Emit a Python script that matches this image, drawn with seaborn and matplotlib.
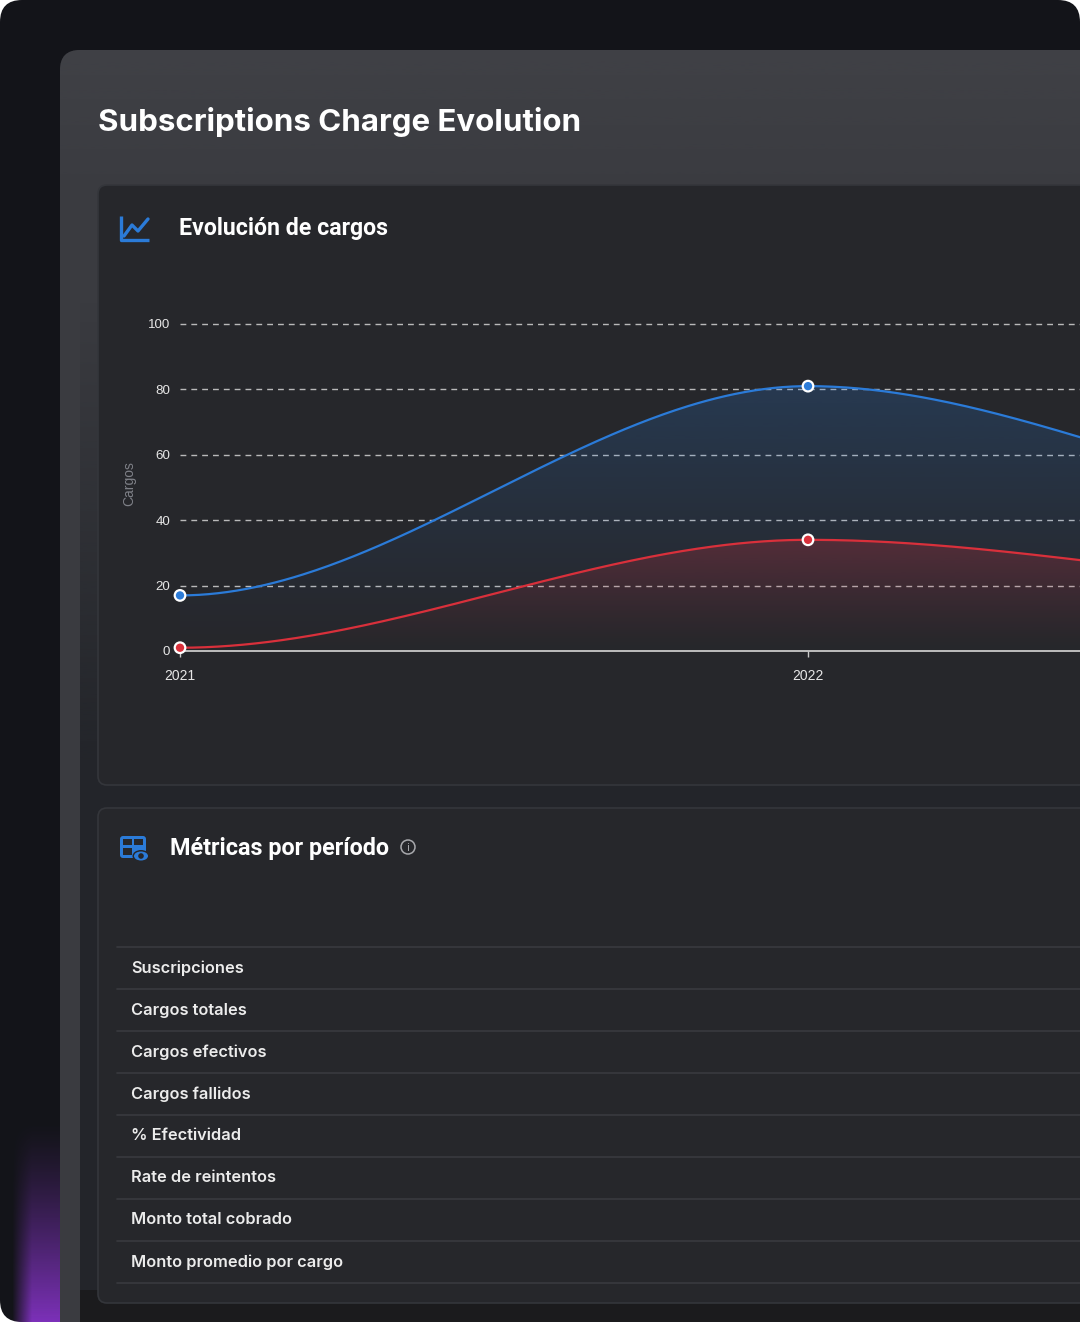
import numpy as np
import pandas as pd
import matplotlib
matplotlib.use("Agg")
import matplotlib.pyplot as plt
import seaborn as sns
from matplotlib.patches import FancyBboxPatch, Rectangle, Circle, Ellipse
from matplotlib.colors import to_rgb

# data
years = [2021, 2022, 2023]
cargos_totales = [17, 81, 42]
cargos_fallidos = [1, 34, 18.5]
y_ticks = [0, 20, 40, 60, 80, 100]
row_labels = ["Suscripciones", "Cargos totales", "Cargos efectivos", "Cargos fallidos",
              "% Efectividad", "Rate de reintentos", "Monto total cobrado",
              "Monto promedio por cargo"]

BLUE = "#2b7bd8"
RED = "#d9303b"
W, H = 1080, 1322

sns.set_style("dark")
plt.rcParams["font.family"] = ["Inter", "DejaVu Sans"]

fig = plt.figure(figsize=(W / 100, H / 100), dpi=100, facecolor="white")
bg = fig.add_axes([0, 0, 1, 1])
bg.set_xlim(0, W)
bg.set_ylim(H, 0)
bg.axis("off")


def rbox(x, y, w, h, r, fc, ec="none", lw=0, z=1):
    p = FancyBboxPatch((x, y), w, h, boxstyle=f"round,pad=0,rounding_size={r}",
                       fc=fc, ec=ec, lw=lw, zorder=z)
    bg.add_patch(p)
    return p


def vgrad(x0, x1, y0, y1, color, a0, a1, z, clip=None):
    rgba = np.zeros((256, 1, 4))
    rgba[..., :3] = to_rgb(color)
    rgba[..., 3] = np.linspace(a0, a1, 256)[:, None]
    im = bg.imshow(rgba, extent=[x0, x1, y1, y0], origin="upper", aspect="auto", zorder=z)
    if clip is not None:
        im.set_clip_path(clip)
    return im


# outer frame
outer = rbox(0, 0, W, H, 22, "#131419", z=0)
# purple glow bottom-left
glow = np.zeros((200, 70, 4))
glow[..., :3] = to_rgb("#8634c8")
yy = np.linspace(0, 1, 200)[:, None] ** 1.3
xx = np.clip((np.linspace(0, 70, 70)[None, :] - 12) / 20, 0, 1)
glow[..., 3] = 0.92 * yy * xx
im = bg.imshow(glow, extent=[0, 70, H, 1120], origin="upper", aspect="auto", zorder=0.5)
im.set_clip_path(outer)

# panel
panel = rbox(60, 50, 1020 + 30, 1320, 20, "#3a3b40", z=1)
vgrad(60, W, 50, 200, "#44454a", 0.6, 0.0, 1.1, clip=panel)
# inner darker area
vgrad(80, W, 300, 760, "#23252a", 0.0, 1.0, 1.2)
bg.add_patch(Rectangle((80, 760), 1000, 600, fc="#23252a", ec="none", zorder=1.2))
bg.add_patch(Rectangle((80, 1290), 1000, 40, fc="#1b1b1d", ec="none", zorder=1.3))

bg.text(98, 122, "Subscriptions Charge Evolution", fontsize=22.5, fontweight="bold",
        color="white", va="center", ha="left", zorder=5)

# cards
rbox(98, 185, 1040, 600, 9, "#26272b", ec="#34363b", lw=1.2, z=2)
rbox(98, 808, 1040, 495, 9, "#26272b", ec="#34363b", lw=1.2, z=2)

# chart icon
bg.plot([121, 121, 149], [216, 240, 240], color=BLUE, lw=2.4, solid_capstyle="butt", zorder=5)
bg.plot([124, 132, 138, 148], [236, 225, 231, 219], color=BLUE, lw=2.4, zorder=5)
bg.text(179, 229, "Evolución de cargos", fontsize=16.7, fontweight="bold", color="white",
        va="center", ha="left", family=["Roboto", "DejaVu Sans"], zorder=5)

# table icon
rbox(120, 836, 26, 22, 3, BLUE, z=5)
bg.add_patch(Rectangle((123, 839), 9, 6, fc="#26272b", ec="none", zorder=6))
bg.add_patch(Rectangle((134, 839), 9, 6, fc="#26272b", ec="none", zorder=6))
bg.add_patch(Rectangle((123, 847.5), 9, 7, fc="#26272b", ec="none", zorder=6))
bg.add_patch(Ellipse((141, 856), 17, 12, fc="#26272b", ec="none", zorder=6.5))
bg.add_patch(Ellipse((141, 856), 14, 9, fc=BLUE, ec="none", zorder=7))
bg.add_patch(Circle((141, 856), 2.8, fc="#26272b", ec="none", zorder=8))
bg.text(170, 849, "Métricas por período", fontsize=16.8, fontweight="bold", color="white",
        va="center", ha="left", family=["Roboto", "DejaVu Sans"], zorder=5)
bg.add_patch(Circle((408, 847), 7, fc="none", ec="#a8a9ad", lw=1.1, zorder=5))
bg.text(408, 848, "i", fontsize=7.5, color="#a8a9ad", ha="center", va="center",
        family=["DejaVu Sans"], zorder=5)

# table rows
row_y = 947 + 42 * np.arange(len(row_labels) + 1)
for yv in row_y:
    bg.plot([117, W], [yv, yv], color="#393a3f", lw=1.2, zorder=5)
for lbl, yv in zip(row_labels, row_y[:-1]):
    bg.text(131, yv + 21, lbl, fontsize=11.8, fontweight="semibold", color="#ececec",
            va="center", ha="left", zorder=5)

# chart axes (extends past right edge like the cropped screenshot)
x_left, x_right = 180, 180 + 628 * 2
y_bot, y_top = 651, 324
ax = fig.add_axes([x_left / W, 1 - y_bot / H, (x_right - x_left) / W, (y_bot - y_top) / H])
ax.patch.set_alpha(0)
ax.set_zorder(10)


def smooth(xs, ys, n=200):
    xo, yo = [], []
    for i in range(len(xs) - 1):
        t = np.linspace(0, 1, n)
        s = 3 * t ** 2 - 2 * t ** 3
        xo.append(xs[i] + (xs[i + 1] - xs[i]) * t)
        yo.append(ys[i] + (ys[i + 1] - ys[i]) * s)
    return np.concatenate(xo), np.concatenate(yo)


def grad_fill(x, y, color, a_top):
    poly = ax.fill_between(x, y, 0, color="none", lw=0)
    rgba = np.zeros((256, 1, 4))
    rgba[..., :3] = to_rgb(color)
    rgba[..., 3] = a_top * np.linspace(0, 1, 256)[:, None] ** 1.2
    im = ax.imshow(rgba, extent=[x.min(), x.max(), 0, y.max()], origin="lower",
                   aspect="auto", zorder=1)
    im.set_clip_path(poly.get_paths()[0], transform=ax.transData)


series = {"Cargos totales": (cargos_totales, BLUE, 0.22),
          "Cargos fallidos": (cargos_fallidos, RED, 0.26)}
curves = []
for name, (vals, col, a) in series.items():
    xs, ys = smooth(years, vals)
    grad_fill(xs, ys, col, a)
    curves.append(pd.DataFrame({"year": xs, "value": ys, "serie": name}))
df_curve = pd.concat(curves)
df_pts = pd.DataFrame({"year": years * 2,
                       "value": cargos_totales + cargos_fallidos,
                       "serie": ["Cargos totales"] * 3 + ["Cargos fallidos"] * 3})
pal = {"Cargos totales": BLUE, "Cargos fallidos": RED}

for yv in y_ticks[1:]:
    ax.axhline(yv, color="#d4d4d4", lw=1, ls=(0, (4.2, 3.6)), alpha=0.85, zorder=0.5)
ax.axhline(0, color="#c9c9c9", lw=1.3, zorder=2)

sns.lineplot(data=df_curve, x="year", y="value", hue="serie", palette=pal, lw=1.6,
             legend=False, ax=ax, zorder=3, estimator=None, sort=False)
sns.scatterplot(data=df_pts, x="year", y="value", hue="serie", palette=pal, s=58,
                edgecolor="white", linewidth=1.6, legend=False, ax=ax, zorder=4)
for c in ax.collections:
    c.set_clip_on(False)
for ln in ax.lines:
    ln.set_clip_on(False)

ax.set_xlim(years[0], years[-1])
ax.set_ylim(0, 100)
# 2023 falls outside the visible (cropped) area, so only the first two get labels
ax.set_xticks(years[:2])
ax.set_xticklabels([str(y) for y in years[:2]])
ax.set_yticks(y_ticks)
ax.grid(False)
for sp in ax.spines.values():
    sp.set_visible(False)
ax.tick_params(axis="y", length=0, pad=7, labelsize=9.6, labelcolor="#e6e6e6")
ax.tick_params(axis="x", length=4, width=1, color="#c9c9c9", pad=9, labelsize=10,
               labelcolor="#e6e6e6", direction="out", bottom=True)
for lab in ax.get_xticklabels() + ax.get_yticklabels():
    lab.set_family(["Liberation Sans", "DejaVu Sans"])
ax.set_xlabel("")
ax.set_ylabel("")

bg.text(129, 484, "Cargos", rotation=90, fontsize=10, color="#7f8188",
        family=["Liberation Sans", "DejaVu Sans"], ha="center", va="center", zorder=5)

fig.savefig("out.png", dpi=100, facecolor="white")
